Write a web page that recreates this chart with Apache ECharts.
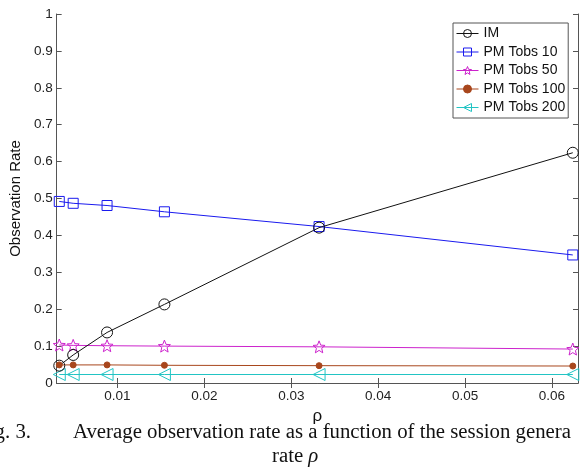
<!DOCTYPE html>
<html><head><meta charset="utf-8">
<script src="https://cdn.jsdelivr.net/npm/echarts/dist/echarts.min.js"></script>
<style>html,body{margin:0;padding:0;background:#fff}#c{width:580px;height:469px}</style>
</head><body><div id="c"></div>
<script>
const rho   = [0.0033, 0.0049, 0.0088, 0.0154, 0.0332, 0.0624];
const im    = [0.047, 0.076, 0.137, 0.213, 0.421, 0.624];
const pm10  = [0.492, 0.487, 0.481, 0.464, 0.424, 0.347];
const pm50  = [0.103, 0.102, 0.101, 0.100, 0.098, 0.092];
const pm100 = [0.049, 0.049, 0.049, 0.048, 0.047, 0.046];
const pm200 = [0.023, 0.023, 0.023, 0.023, 0.023, 0.023];
const xTicks = [0.01, 0.02, 0.03, 0.04, 0.05, 0.06];
const seriesNames = ['IM', 'PM Tobs 10', 'PM Tobs 50', 'PM Tobs 100', 'PM Tobs 200'];
const colors = {'IM': '#111111', 'PM Tobs 10': '#1a1aee', 'PM Tobs 50': '#cc22cc', 'PM Tobs 100': '#a8461c', 'PM Tobs 200': '#22c4c4'};
const clear = 'rgba(255,255,255,0)';

function starPath() {
  let p = [];
  for (let i = 0; i < 10; i++) {
    const a = (-90 + i * 36) * Math.PI / 180;
    const r = i % 2 === 0 ? 50 : 22;
    p.push((i ? 'L' : 'M') + (50 + r * Math.cos(a)).toFixed(2) + ',' + (50 + r * Math.sin(a)).toFixed(2));
  }
  return 'path://' + p.join(' ') + ' Z';
}
const pair = arr => rho.map((x, i) => [x, arr[i]]);
const font = 'Liberation Sans';
const serif = 'Liberation Serif';
const chart = echarts.init(document.getElementById('c'), null, {renderer: 'canvas'});
const axisLine = {show: true, lineStyle: {color: '#555', width: 1}};
const mk = (name, data, symbol, size, fill, extra) => Object.assign({
  name, type: 'line', data: pair(data), symbol, symbolSize: size, showSymbol: true,
  lineStyle: {color: colors[name], width: 1}, itemStyle: {color: fill, borderColor: colors[name], borderWidth: 1},
  emphasis: {disabled: true}, animation: false, z: 2
}, extra || {});

chart.setOption({
  animation: false,
  grid: {left: 54, right: 2, top: 14, bottom: 86},
  legend: {
    orient: 'vertical', left: 453, top: 23, padding: [3, 3, 3, 3],
    backgroundColor: '#fff', borderColor: '#555', borderWidth: 1,
    itemWidth: 22, itemHeight: 10, itemGap: 3.5,
    textStyle: {fontFamily: font, fontSize: 14, color: '#111', lineHeight: 15},
    data: seriesNames.map(n => ({
      name: n,
      itemStyle: {color: n === 'PM Tobs 100' ? colors[n] : clear, borderColor: colors[n], borderWidth: 1},
      lineStyle: {color: colors[n], width: 1}
    }))
  },
  xAxis: [{
    type: 'value', min: 0.003, max: 0.063, position: 'bottom',
    name: 'ρ', nameLocation: 'middle', nameGap: 25,
    nameTextStyle: {fontFamily: font, fontSize: 17, color: '#111'},
    axisLine, splitLine: {show: false},
    axisTick: {inside: true, length: 5, lineStyle: {color: '#555'}, customValues: xTicks},
    axisLabel: {customValues: xTicks, margin: 6, fontFamily: font, fontSize: 13.5, color: '#222',
      formatter: v => v.toFixed(2)}
  }, {
    type: 'value', min: 0.003, max: 0.063, position: 'top',
    axisLine, splitLine: {show: false},
    axisTick: {inside: true, length: 5, lineStyle: {color: '#555'}, customValues: xTicks},
    axisLabel: {show: false}
  }],
  yAxis: [{
    type: 'value', min: 0, max: 1, interval: 0.1, position: 'left',
    name: 'Observation Rate', nameLocation: 'middle', nameGap: 33,
    nameTextStyle: {fontFamily: font, fontSize: 15, color: '#111'},
    axisLine, splitLine: {show: false},
    axisTick: {inside: true, length: 5, lineStyle: {color: '#555'}},
    axisLabel: {margin: 4, fontFamily: font, fontSize: 13.5, color: '#222',
      formatter: v => (Math.round(v * 10) / 10).toString()}
  }, {
    type: 'value', min: 0, max: 1, interval: 0.1, position: 'right',
    axisLine, splitLine: {show: false},
    axisTick: {inside: true, length: 5, lineStyle: {color: '#555'}},
    axisLabel: {show: false}
  }],
  series: [
    mk('PM Tobs 200', pm200, 'triangle', 12, clear, {symbolRotate: 90}),
    mk('PM Tobs 100', pm100, 'circle', 6, colors['PM Tobs 100']),
    mk('PM Tobs 50', pm50, starPath(), 12, clear),
    mk('PM Tobs 10', pm10, 'rect', 10, clear),
    mk('IM', im, 'circle', 11, clear)
  ],
  graphic: [
    {type: 'text', x: 31, y: 433, style: {text: 'g. 3.', align: 'right', verticalAlign: 'middle', fontFamily: serif, fontSize: 20.8, fill: '#111'}},
    {type: 'text', x: 73, y: 433, style: {text: 'Average observation rate as a function of the session genera', verticalAlign: 'middle', fontFamily: serif, fontSize: 20.8, fill: '#111'}},
    {type: 'text', x: 272, y: 457, style: {text: 'rate {i|ρ}', verticalAlign: 'middle', fontFamily: serif, fontSize: 20.8, fill: '#111',
      rich: {i: {fontFamily: serif, fontStyle: 'italic', fontSize: 20.8, fill: '#111'}}}}
  ]
});
</script></body></html>
